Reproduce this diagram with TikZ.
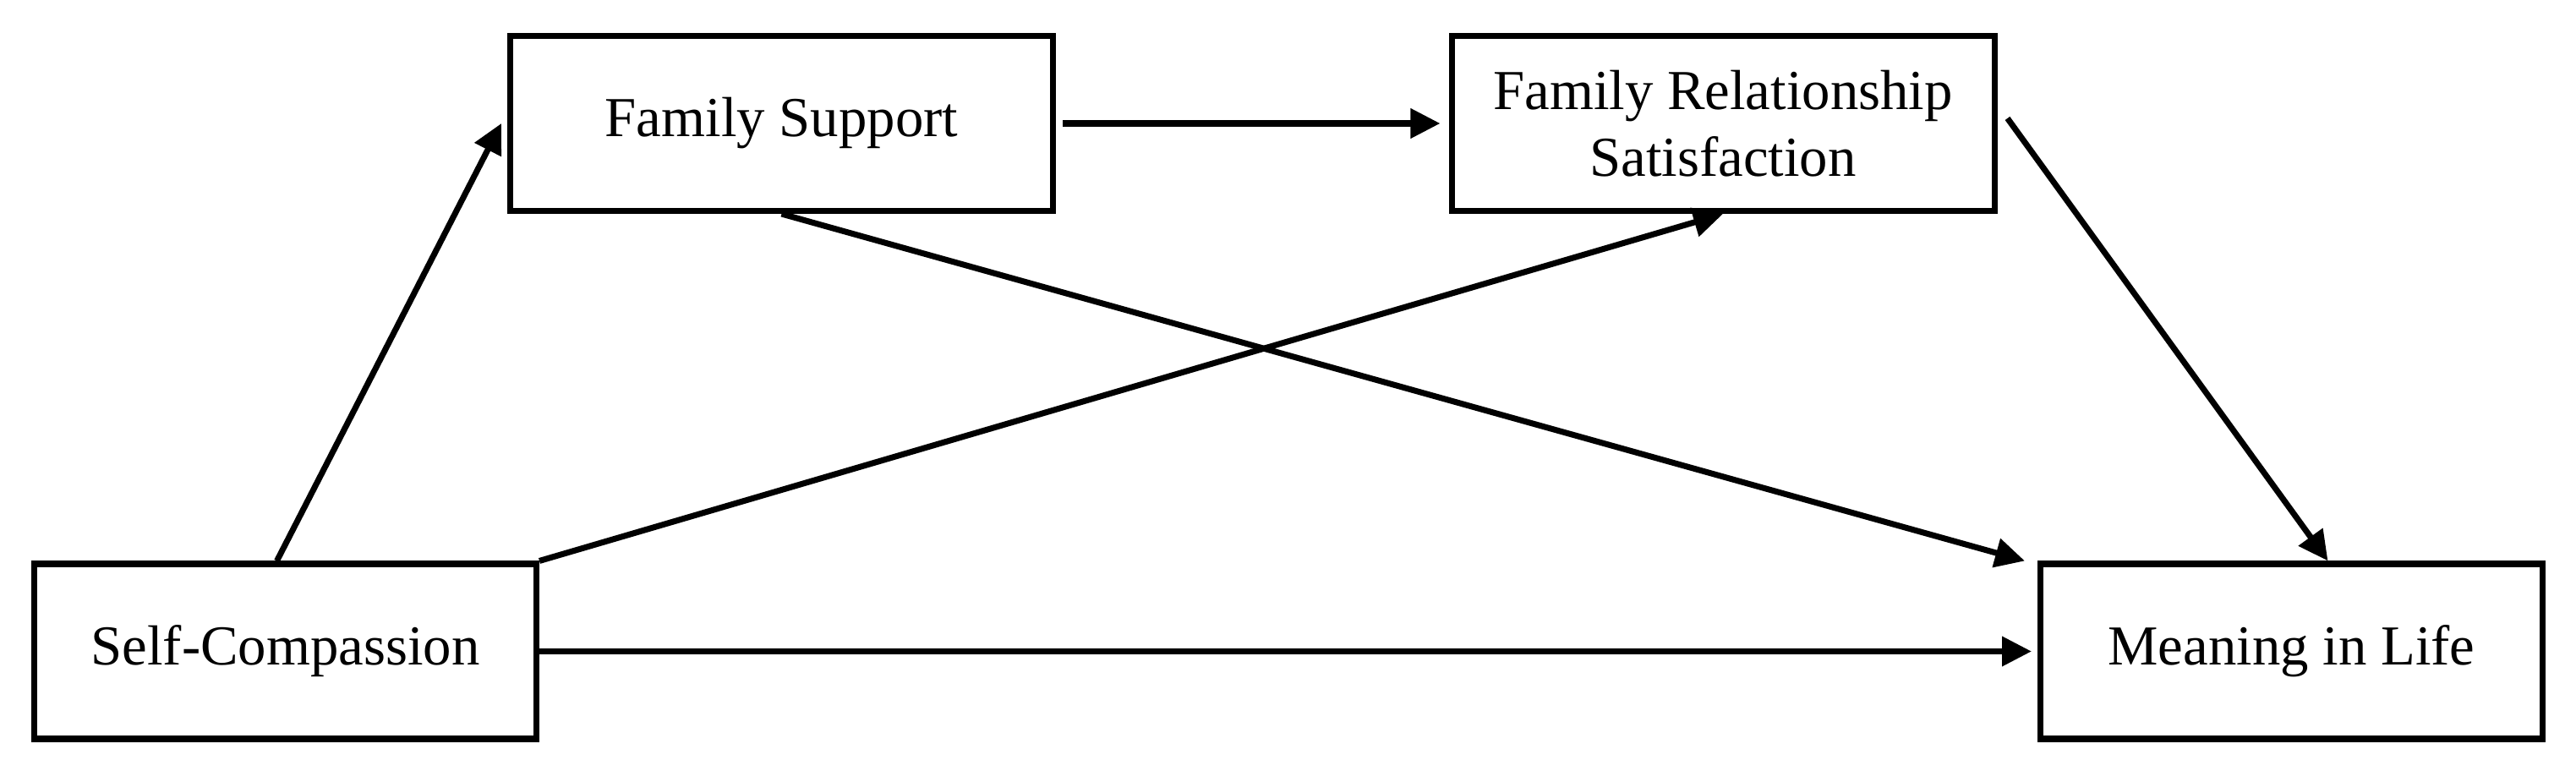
\documentclass[tikz,border=0pt]{standalone}
\usepackage{fontspec}
\setmainfont{Liberation Serif}
\usetikzlibrary{arrows.meta}

\begin{document}
\begin{tikzpicture}[
  boite/.style={draw, line width=2pt, minimum height=2.07cm, align=center,
    inner sep=0pt, font=\fontsize{19}{22.5}\selectfont},
  fleche/.style={line width=2pt, -{Triangle[length=3.5mm,width=3.4mm]}}
]
\useasboundingbox (0,0) rectangle (30.47,9.12);

% Noeuds
\node[boite, minimum width=6.42cm] (FS) at (9.245,7.66) {Family Support};
\node[boite, minimum width=6.42cm] (FRS) at (20.38,7.66) {Family Relationship\\Satisfaction};
\node[boite, minimum width=5.94cm] (SC) at (3.375,1.415) {Self-Compassion};
\node[boite, minimum width=5.94cm] (ML) at (27.105,1.415) {Meaning in Life};

% Flèches
\draw[fleche] ([xshift=-1mm]SC.north) -- ([xshift=-0.7mm]FS.west);
\draw[fleche] ([xshift=0.8mm]FS.east) -- ([xshift=-1mm]FRS.west);
\draw[fleche] (FS.south) -- ([xshift=-1.5mm]ML.north west);
\draw[fleche] (SC.north east) -- (FRS.south);
\draw[fleche] ([xshift=1.2mm,yshift=0.6mm]FRS.east) -- ([xshift=4.3mm]ML.north);
\draw[fleche] (SC.east) -- ([xshift=-0.7mm]ML.west);

\end{tikzpicture}
\end{document}
